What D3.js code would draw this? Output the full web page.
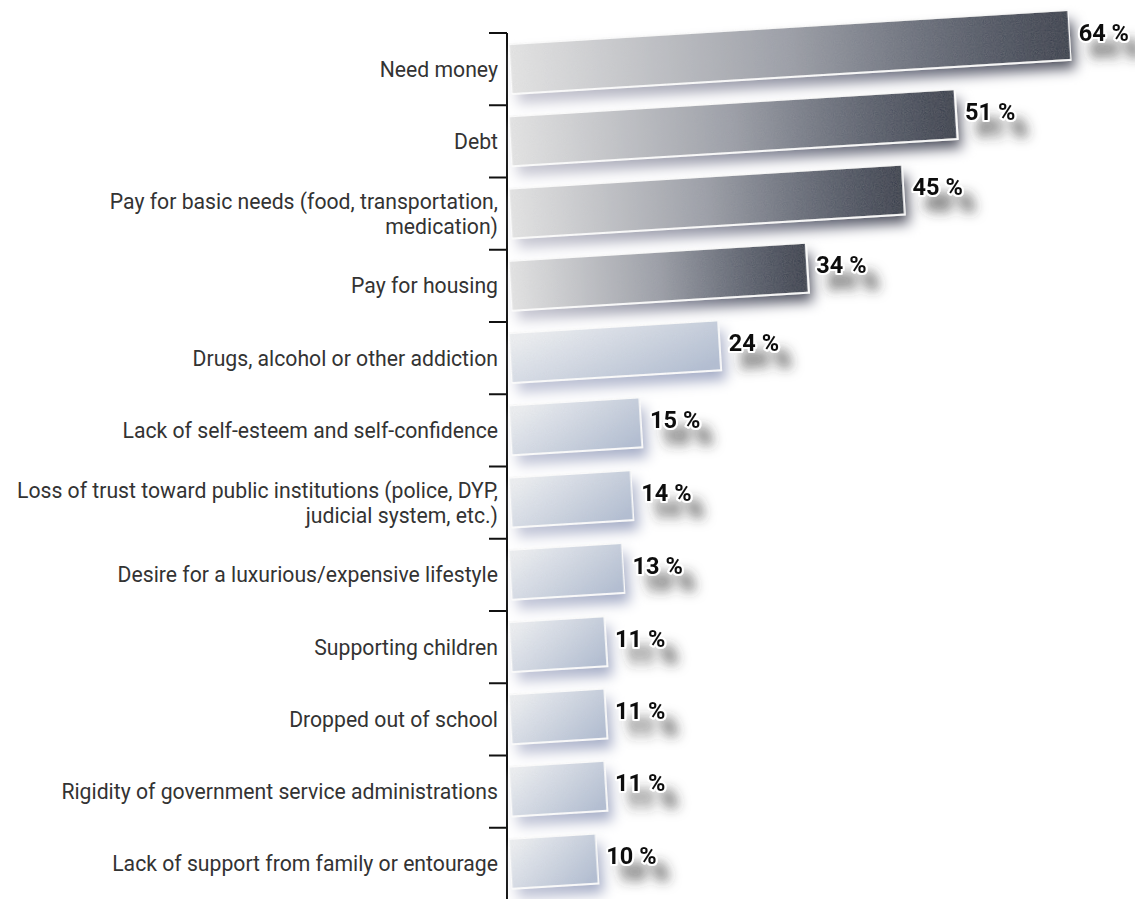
<!DOCTYPE html>
<html>
<head>
<meta charset="utf-8">
<script src="https://cdn.jsdelivr.net/npm/d3@7"></script>
<style>
  html, body { margin: 0; padding: 0; background: #ffffff; }
  svg { display: block; }
  .cat { font-family: Roboto, "Noto Sans", sans-serif; font-size: 21.2px; fill: #333; }
  .val { font-family: Roboto, "Noto Sans", sans-serif; font-size: 23.5px; font-weight: 700; fill: #111;
         stroke: #fff; stroke-width: 4px; paint-order: stroke; stroke-linejoin: round; }
</style>
</head>
<body>
<svg id="chart" width="1135" height="899"></svg>
<script>
// Reasons reported, share of respondents (%)
const categories = [
  "Need money",
  "Debt",
  "Pay for basic needs (food, transportation, medication)",
  "Pay for housing",
  "Drugs, alcohol or other addiction",
  "Lack of self-esteem and self-confidence",
  "Loss of trust toward public institutions (police, DYP, judicial system, etc.)",
  "Desire for a luxurious/expensive lifestyle",
  "Supporting children",
  "Dropped out of school",
  "Rigidity of government service administrations",
  "Lack of support from family or entourage"
];
const values = [64, 51, 45, 34, 24, 15, 14, 13, 11, 11, 11, 10];
// Reasons tied to money are drawn in the dark tone
const darkGroup = [true, true, true, true, false, false, false, false, false, false, false, false];

const svg = d3.select("#chart");
const W = 1135, H = 899;
const axisX = 507;
const tilt = -3.5;

const y = d3.scaleBand()
  .domain(categories)
  .range([33, 900])
  .paddingInner(0.3)
  .paddingOuter(0.15);

const x = d3.scaleLinear()
  .domain([0, 64])
  .range([axisX + 3, 1071]);

const defs = svg.append("defs");

// gradients
const gDark = defs.append("linearGradient").attr("id", "gradDark")
  .attr("x1", "0").attr("y1", "0").attr("x2", "1").attr("y2", "0");
gDark.append("stop").attr("offset", "0%").attr("stop-color", "#e6e6e6");
gDark.append("stop").attr("offset", "50%").attr("stop-color", "#9a9da6");
gDark.append("stop").attr("offset", "100%").attr("stop-color", "#262e40");

const gLight = defs.append("linearGradient").attr("id", "gradLight")
  .attr("x1", "0").attr("y1", "0.2").attr("x2", "1").attr("y2", "0.8");
gLight.append("stop").attr("offset", "0%").attr("stop-color", "#eef0f3");
gLight.append("stop").attr("offset", "100%").attr("stop-color", "#b2bed3");

// soft colour-following shadow behind bars
const fBar = defs.append("filter").attr("id", "barShadow")
  .attr("x", "-20%").attr("y", "-60%").attr("width", "150%").attr("height", "260%");
fBar.append("feGaussianBlur").attr("in", "SourceGraphic").attr("stdDeviation", 6.5).attr("result", "b");
fBar.append("feOffset").attr("in", "b").attr("dx", 5).attr("dy", 10).attr("result", "o");
const ct = fBar.append("feComponentTransfer").attr("in", "o").attr("result", "d");
ct.append("feFuncR").attr("type", "linear").attr("slope", 0.75);
ct.append("feFuncG").attr("type", "linear").attr("slope", 0.75);
ct.append("feFuncB").attr("type", "linear").attr("slope", 0.85);
ct.append("feFuncA").attr("type", "linear").attr("slope", 0.95);
const mBar = fBar.append("feMerge");
mBar.append("feMergeNode").attr("in", "d");
mBar.append("feMergeNode").attr("in", "SourceGraphic");

// fine grain on bar surfaces
const fGrain = defs.append("filter").attr("id", "grain")
  .attr("x", "0").attr("y", "0").attr("width", "100%").attr("height", "100%");
fGrain.append("feTurbulence").attr("type", "fractalNoise").attr("baseFrequency", 0.9)
  .attr("numOctaves", 2).attr("seed", 3).attr("result", "n");
fGrain.append("feColorMatrix").attr("in", "n").attr("type", "matrix")
  .attr("values", "0 0 0 0 0.5  0 0 0 0 0.5  0 0 0 0 0.5  0 0 0 0.2 0").attr("result", "nm");
fGrain.append("feComposite").attr("in", "nm").attr("in2", "SourceAlpha").attr("operator", "in").attr("result", "g");
const mG = fGrain.append("feMerge");
mG.append("feMergeNode").attr("in", "SourceGraphic");
mG.append("feMergeNode").attr("in", "g");

// blurred drop shadow under value labels
const fLbl = defs.append("filter").attr("id", "lblShadow")
  .attr("x", "-30%").attr("y", "-60%").attr("width", "220%").attr("height", "320%");
fLbl.append("feGaussianBlur").attr("in", "SourceAlpha").attr("stdDeviation", 6).attr("result", "b");
fLbl.append("feOffset").attr("in", "b").attr("dx", 12).attr("dy", 16).attr("result", "o");
fLbl.append("feFlood").attr("flood-color", "#333").attr("flood-opacity", 0.55);
fLbl.append("feComposite").attr("in2", "o").attr("operator", "in").attr("result", "s");
const mL = fLbl.append("feMerge");
mL.append("feMergeNode").attr("in", "s");
mL.append("feMergeNode").attr("in", "SourceGraphic");

// category axis: line with ticks at band boundaries
const step = y.step();
const halfGap = y.paddingInner() * step / 2;
const axis = svg.append("g").attr("class", "axis");
axis.append("line")
  .attr("x1", axisX).attr("x2", axisX)
  .attr("y1", y.range()[0]).attr("y2", H + 5)
  .attr("stroke", "#111").attr("stroke-width", 2);
axis.selectAll("line.tick")
  .data(categories)
  .join("line")
  .attr("class", "tick")
  .attr("x1", axisX - 18).attr("x2", axisX)
  .attr("y1", d => y(d) - halfGap).attr("y2", d => y(d) - halfGap)
  .attr("stroke", "#111").attr("stroke-width", 2);

// category labels, wrapped when too long; each line is its own text
const maxLabel = 496;
const lineH = 25;
const measure = svg.append("text").attr("class", "cat").attr("visibility", "hidden");
function wrap(str) {
  const words = str.split(" ");
  const lines = [];
  let line = [];
  words.forEach(w => {
    line.push(w);
    measure.text(line.join(" "));
    if (measure.node().getComputedTextLength() > maxLabel && line.length > 1) {
      line.pop();
      lines.push(line.join(" "));
      line = [w];
    }
  });
  lines.push(line.join(" "));
  return lines;
}
const labelLines = categories.flatMap(c => {
  const lines = wrap(c);
  const mid = y(c) + y.bandwidth() / 2;
  return lines.map((l, i) => ({ text: l, cy: mid + (i - (lines.length - 1) / 2) * lineH }));
});
measure.remove();

svg.append("g").selectAll("text")
  .data(labelLines)
  .join("text")
  .attr("class", "cat")
  .attr("text-anchor", "end")
  .attr("x", axisX - 9)
  .attr("y", d => d.cy)
  .attr("dy", "0.35em")
  .text(d => d.text);

// tilted bars
const rows = svg.append("g").selectAll("g.row")
  .data(categories.map((c, i) => ({ c, v: values[i], dark: darkGroup[i] })))
  .join("g")
  .attr("class", "row")
  .attr("transform", d => `translate(${x(0)},${y(d.c) + y.bandwidth() / 2}) rotate(${tilt})`);

rows.append("g").attr("filter", "url(#barShadow)")
  .append("rect")
  .attr("x", 0)
  .attr("y", -y.bandwidth() / 2)
  .attr("width", d => x(d.v) - x(0))
  .attr("height", y.bandwidth())
  .attr("fill", d => d.dark ? "url(#gradDark)" : "url(#gradLight)")
  .attr("filter", "url(#grain)")
  .attr("stroke", "#fff")
  .attr("stroke-width", 2.5);

rows.append("text")
  .attr("class", "val")
  .attr("filter", "url(#lblShadow)")
  .attr("transform", d => `translate(${x(d.v) - x(0) + 9},-2) rotate(${-tilt})`)
  .attr("dy", "0.35em")
  .text(d => `${d.v} %`);
</script>
</body>
</html>
